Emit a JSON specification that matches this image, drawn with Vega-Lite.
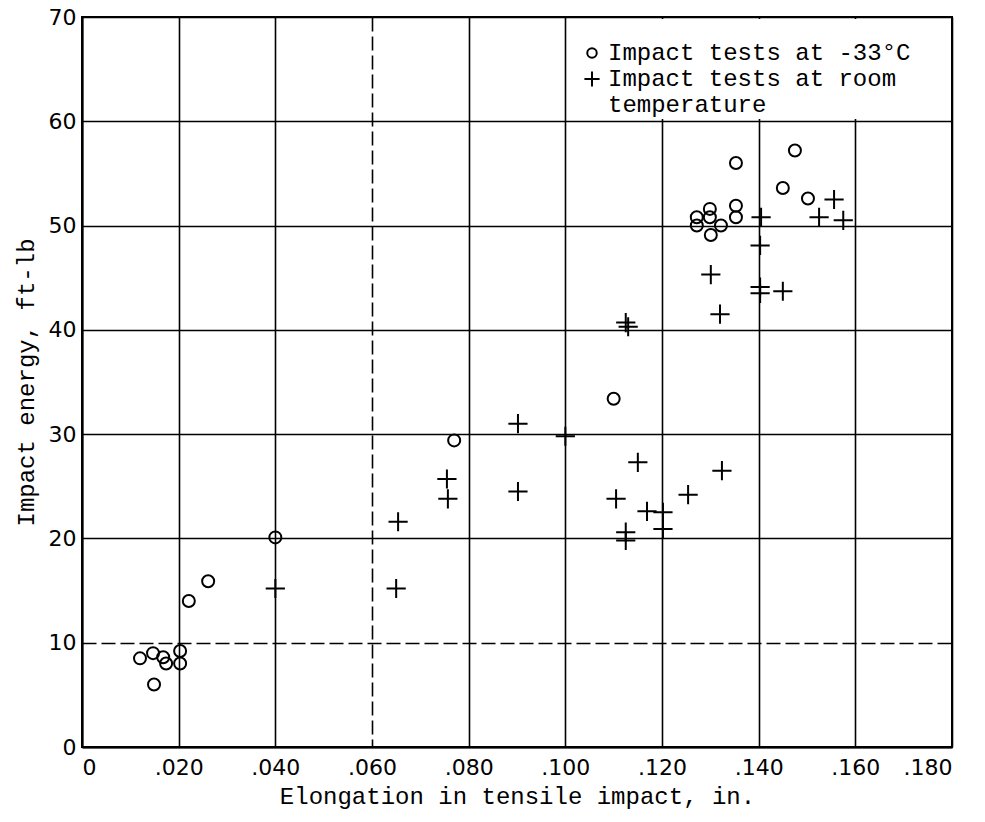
{
  "$schema": "https://vega.github.io/schema/vega-lite/v6.json",
  "width": 870,
  "height": 730,
  "autosize": {"type": "none"},
  "padding": {"left": 82, "top": 17, "right": 33, "bottom": 75},
  "background": "white",
  "config": {
    "view": {"stroke": "black", "strokeWidth": 2},
    "axis": {
      "grid": true,
      "gridColor": "black",
      "gridOpacity": 1,
      "gridWidth": 1.6,
      "domainColor": "black",
      "domainWidth": 2,
      "ticks": false,
      "labelFont": "DejaVu Sans",
      "labelFontSize": 22,
      "labelColor": "black",
      "titleFont": "Liberation Mono",
      "titleFontSize": 24,
      "titleFontWeight": "normal",
      "titleColor": "black"
    }
  },
  "data": {
    "values": [
      {"x": 0.012, "y": 8.5, "s": "cold"},
      {"x": 0.0147, "y": 9.0, "s": "cold"},
      {"x": 0.0168, "y": 8.6, "s": "cold"},
      {"x": 0.0174, "y": 8.0, "s": "cold"},
      {"x": 0.0203, "y": 9.2, "s": "cold"},
      {"x": 0.0203, "y": 8.0, "s": "cold"},
      {"x": 0.0149, "y": 6.0, "s": "cold"},
      {"x": 0.0221, "y": 14.0, "s": "cold"},
      {"x": 0.0261, "y": 15.9, "s": "cold"},
      {"x": 0.040, "y": 20.1, "s": "cold"},
      {"x": 0.077, "y": 29.4, "s": "cold"},
      {"x": 0.110, "y": 33.4, "s": "cold"},
      {"x": 0.1272, "y": 50.0, "s": "cold"},
      {"x": 0.1272, "y": 50.8, "s": "cold"},
      {"x": 0.1299, "y": 50.8, "s": "cold"},
      {"x": 0.1299, "y": 51.6, "s": "cold"},
      {"x": 0.1301, "y": 49.1, "s": "cold"},
      {"x": 0.1322, "y": 50.0, "s": "cold"},
      {"x": 0.1353, "y": 50.8, "s": "cold"},
      {"x": 0.1353, "y": 51.9, "s": "cold"},
      {"x": 0.1353, "y": 56.0, "s": "cold"},
      {"x": 0.1450, "y": 53.6, "s": "cold"},
      {"x": 0.1475, "y": 57.2, "s": "cold"},
      {"x": 0.1502, "y": 52.6, "s": "cold"},
      {"x": 0.040, "y": 15.2, "s": "room"},
      {"x": 0.065, "y": 15.2, "s": "room"},
      {"x": 0.0654, "y": 21.6, "s": "room"},
      {"x": 0.0755, "y": 25.7, "s": "room"},
      {"x": 0.0757, "y": 23.8, "s": "room"},
      {"x": 0.0902, "y": 31.0, "s": "room"},
      {"x": 0.0902, "y": 24.5, "s": "room"},
      {"x": 0.100, "y": 29.8, "s": "room"},
      {"x": 0.1105, "y": 23.8, "s": "room"},
      {"x": 0.1125, "y": 20.6, "s": "room"},
      {"x": 0.1125, "y": 19.8, "s": "room"},
      {"x": 0.1125, "y": 40.7, "s": "room"},
      {"x": 0.113, "y": 40.3, "s": "room"},
      {"x": 0.115, "y": 27.3, "s": "room"},
      {"x": 0.1169, "y": 22.6, "s": "room"},
      {"x": 0.1202, "y": 22.5, "s": "room"},
      {"x": 0.1202, "y": 20.9, "s": "room"},
      {"x": 0.1254, "y": 24.2, "s": "room"},
      {"x": 0.1324, "y": 26.5, "s": "room"},
      {"x": 0.1301, "y": 45.3, "s": "room"},
      {"x": 0.132, "y": 41.5, "s": "room"},
      {"x": 0.1403, "y": 43.5, "s": "room"},
      {"x": 0.1403, "y": 44.1, "s": "room"},
      {"x": 0.1403, "y": 48.1, "s": "room"},
      {"x": 0.1405, "y": 50.8, "s": "room"},
      {"x": 0.145, "y": 43.7, "s": "room"},
      {"x": 0.1525, "y": 50.8, "s": "room"},
      {"x": 0.1556, "y": 52.5, "s": "room"},
      {"x": 0.1575, "y": 50.5, "s": "room"}
    ]
  },
  "mark": {"type": "point", "filled": false, "strokeWidth": 2, "color": "black", "opacity": 1, "size": 144},
  "encoding": {
    "x": {
      "field": "x",
      "type": "quantitative",
      "scale": {"domain": [0, 0.18], "nice": false, "zero": true},
      "axis": {
        "values": [0, 0.02, 0.04, 0.06, 0.08, 0.1, 0.12, 0.14, 0.16, 0.18],
        "labelExpr": "datum.value == 0 ? '0' : slice(format(datum.value, '.3f'), 1)",
        "labelPadding": 10,
        "gridDash": {"condition": {"test": "abs(datum.value - 0.06) < 0.001", "value": [14, 5]}, "value": []},
        "title": "Elongation in tensile impact, in.",
        "titlePadding": 6
      }
    },
    "y": {
      "field": "y",
      "type": "quantitative",
      "scale": {"domain": [0, 70], "nice": false},
      "axis": {
        "values": [0, 10, 20, 30, 40, 50, 60, 70],
        "labelPadding": 6,
        "gridDash": {"condition": {"test": "datum.value == 10", "value": [14, 5]}, "value": []},
        "title": "Impact energy, ft-lb",
        "titlePadding": 10
      }
    },
    "shape": {
      "field": "s",
      "type": "nominal",
      "scale": {"domain": ["cold", "room"], "range": ["circle", "M-1.6,0H1.6M0,-1.6V1.6"]},
      "legend": {
        "title": " ",
        "titleFontSize": 16,
        "titlePadding": 4,
        "orient": "none",
        "legendX": 496,
        "legendY": 2,
        "padding": 2,
        "fillColor": "white",
        "labelFont": "Liberation Mono",
        "labelFontSize": 24,
        "labelColor": "black",
        "labelLimit": 400,
        "symbolStrokeColor": "black",
        "symbolStrokeWidth": 2,
        "symbolFillColor": "transparent",
        "symbolSize": 90,
        "rowPadding": 2,
        "labelOffset": 4,
        "labelExpr": "datum.value == 'cold' ? 'Impact tests at -33°C' : ['Impact tests at room', 'temperature']",
        "encode": {"labels": {"update": {"lineHeight": {"value": 26}}}}
      }
    }
  }
}
